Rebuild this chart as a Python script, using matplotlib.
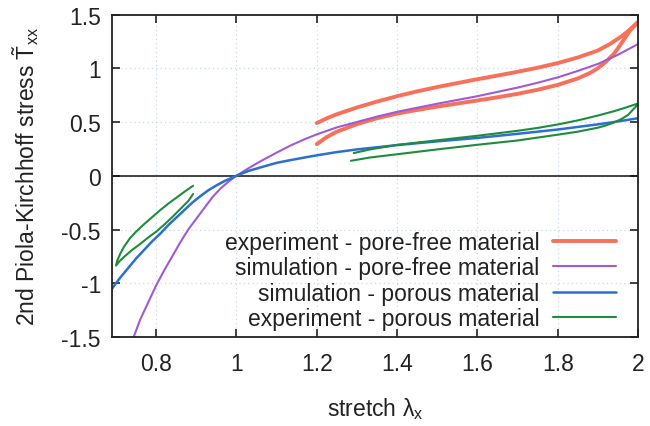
import numpy as np
import matplotlib
matplotlib.use("Agg")
import matplotlib.pyplot as plt

plt.rcParams['font.family'] = ['Liberation Sans', 'DejaVu Sans']
plt.rcParams['mathtext.fontset'] = 'custom'
plt.rcParams['mathtext.rm'] = 'Liberation Sans'
plt.rcParams['mathtext.it'] = 'Liberation Sans:italic'
plt.rcParams['mathtext.bf'] = 'Liberation Sans:bold'

# ---- data ----
# experiment - pore-free material (open hysteresis loop: upper branch out, lower branch back)
exp_free_x = [1.2, 1.225, 1.25, 1.3, 1.35, 1.4, 1.45, 1.5, 1.55, 1.6, 1.65, 1.7, 1.75, 1.8,
              1.85, 1.9, 1.93, 1.96, 1.98, 2.0,
              1.99, 1.98, 1.97, 1.96, 1.95, 1.94, 1.92, 1.9, 1.88, 1.85, 1.8, 1.75, 1.7,
              1.65, 1.6, 1.55, 1.5, 1.45, 1.4, 1.35, 1.3, 1.25, 1.225, 1.2]
exp_free_y = [0.49, 0.535, 0.572, 0.635, 0.69, 0.74, 0.785, 0.825, 0.862, 0.898, 0.932, 0.967,
              1.005, 1.048, 1.10, 1.165, 1.225, 1.30, 1.36, 1.43,
              1.39, 1.35, 1.295, 1.24, 1.185, 1.135, 1.06, 1.0, 0.955, 0.905, 0.845, 0.80,
              0.762, 0.73, 0.70, 0.672, 0.643, 0.612, 0.578, 0.535, 0.48, 0.41, 0.36, 0.294]

# simulation - pore-free material
sim_free_x = [0.744, 0.76, 0.78, 0.80, 0.82, 0.84, 0.86, 0.88, 0.90, 0.92, 0.94, 0.96, 0.98,
              1.0, 1.03, 1.06, 1.10, 1.134, 1.17, 1.2, 1.25, 1.3, 1.35, 1.4, 1.5, 1.6, 1.7,
              1.75, 1.8, 1.85, 1.9, 1.95, 2.0]
sim_free_y = [-1.5, -1.34, -1.18, -1.02, -0.88, -0.75, -0.62, -0.50, -0.40, -0.30, -0.20,
              -0.12, -0.055, 0.0, 0.07, 0.135, 0.215, 0.28, 0.34, 0.385, 0.45, 0.50, 0.55,
              0.595, 0.67, 0.74, 0.82, 0.865, 0.915, 0.975, 1.04, 1.125, 1.225]

# simulation - porous material
sim_por_x = [0.69, 0.71, 0.73, 0.75, 0.77, 0.79, 0.81, 0.83, 0.85, 0.87, 0.89, 0.91, 0.93,
             0.95, 0.97, 1.0, 1.03, 1.067, 1.1, 1.134, 1.17, 1.2, 1.25, 1.3, 1.4, 1.5, 1.6,
             1.7, 1.8, 1.9, 1.95, 2.0]
sim_por_y = [-1.05, -0.95, -0.86, -0.77, -0.69, -0.61, -0.54, -0.46, -0.39, -0.32, -0.25,
             -0.19, -0.135, -0.09, -0.05, 0.0, 0.045, 0.085, 0.12, 0.145, 0.17, 0.19, 0.22,
             0.245, 0.285, 0.32, 0.352, 0.39, 0.43, 0.478, 0.505, 0.535]

# experiment - porous material (compression loop, gap, tension loop)
exp_por_x = [0.892, 0.87, 0.85, 0.83, 0.81, 0.79, 0.77, 0.75, 0.735, 0.72, 0.71, 0.703, 0.70,
             0.71, 0.72, 0.74, 0.76, 0.78, 0.80, 0.82, 0.84, 0.86, 0.88, 0.892,
             np.nan,
             1.292, 1.31, 1.333, 1.4, 1.5, 1.6, 1.7, 1.75, 1.8, 1.85, 1.9, 1.94, 1.97, 2.0,
             1.995, 1.985, 1.975, 1.96, 1.94, 1.92, 1.9, 1.85, 1.8, 1.7, 1.6, 1.5, 1.4,
             1.333, 1.285]
exp_por_y = [-0.093, -0.15, -0.205, -0.26, -0.32, -0.385, -0.45, -0.52, -0.58, -0.66, -0.73,
             -0.79, -0.836,
             -0.79, -0.755, -0.69, -0.635, -0.575, -0.52, -0.455, -0.385, -0.31, -0.235, -0.17,
             np.nan,
             0.211, 0.226, 0.245, 0.287, 0.33, 0.372, 0.418, 0.445, 0.477, 0.515, 0.56, 0.60,
             0.635, 0.672,
             0.645, 0.605, 0.565, 0.53, 0.495, 0.468, 0.447, 0.41, 0.382, 0.328, 0.288,
             0.245, 0.2, 0.17, 0.139]

labels = ['experiment - pore-free material', 'simulation - pore-free material',
          'simulation - porous material', 'experiment - porous material']
colors = ['#f7705a', '#a05ad2', '#2a6fd2', '#1e8c3c']
widths = [2.8, 1.5, 1.8, 1.5]

xticks = [0.8, 1.0, 1.2, 1.4, 1.6, 1.8, 2.0]
xtick_labels = ['0.8', '1', '1.2', '1.4', '1.6', '1.8', '2']
yticks = [-1.5, -1.0, -0.5, 0.0, 0.5, 1.0, 1.5]
ytick_labels = ['-1.5', '-1', '-0.5', '0', '0.5', '1', '1.5']

fig = plt.figure(figsize=(6.5, 4.27), dpi=100)
ax = fig.add_axes([112/650, 1-338/427, (638-112)/650, (338-15.5)/427])
ax.set_axisbelow(True)

ax.axhline(0, color='#111111', lw=1.1, zorder=1)

series = [(exp_free_x, exp_free_y), (sim_free_x, sim_free_y),
          (sim_por_x, sim_por_y), (exp_por_x, exp_por_y)]
for (xs, ys), lab, c, w in zip(series, labels, colors, widths):
    ax.plot(xs, ys, color=c, lw=w, label=lab, solid_capstyle='round',
            solid_joinstyle='round', zorder=3)

ax.set_xlim(0.69, 2.0)
ax.set_ylim(-1.5, 1.5)
ax.set_xticks(xticks)
ax.set_xticklabels(xtick_labels)
ax.set_yticks(yticks)
ax.set_yticklabels(ytick_labels)

ax.grid(True, linestyle=(0, (1, 2.5)), color='#c8d8e8', lw=0.9)
ax.tick_params(direction='in', length=5.5, width=1.2, top=True, right=True,
               labelsize=16.5, colors='#222222')
ax.tick_params(axis='x', pad=11)
ax.tick_params(axis='y', pad=8)
for s in ax.spines.values():
    s.set_linewidth(1.3)
    s.set_color('#222222')
    s.set_zorder(4)

ax.set_xlabel('stretch λ$_{\\mathrm{x}}$', fontsize=16.5, color='#222222')
ax.xaxis.set_label_coords(0.5, -0.18)
ax.set_ylabel('2nd Piola-Kirchhoff stress $\\tilde{\\mathrm{T}}_{\\mathrm{xx}}$',
              fontsize=16.5, color='#222222')
ax.yaxis.set_label_coords(-0.135, 0.5)

leg = ax.legend(loc='lower right', bbox_to_anchor=(616/650, 1-331/427),
                bbox_transform=fig.transFigure, frameon=False, markerfirst=False,
                fontsize=16.5, handlelength=2.75, handletextpad=0.6,
                labelspacing=0.1, borderpad=0, borderaxespad=0)
for t in leg.get_texts():
    t.set_color('#222222')

fig.savefig('out.png', dpi=100)
